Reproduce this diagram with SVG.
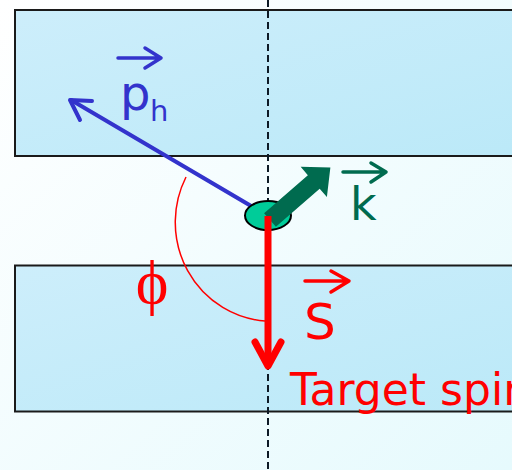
<svg xmlns="http://www.w3.org/2000/svg" width="512" height="470" viewBox="0 0 512 470">
  <defs>
    <linearGradient id="bg" x1="0" y1="0" x2="1" y2="1">
      <stop offset="0" stop-color="#ffffff"/>
      <stop offset="1" stop-color="#e6fafd"/>
    </linearGradient>
    <linearGradient id="slab" x1="0" y1="0" x2="1" y2="1">
      <stop offset="0" stop-color="#cdeefb"/>
      <stop offset="1" stop-color="#bbe9f8"/>
    </linearGradient>
    <style>
      .slab { fill: url(#slab); stroke: #1a1a1a; stroke-width: 2; }
      .lbl { font-family: 'Comic Sans MS', 'DejaVu Sans', sans-serif; }
      .vec { fill: none; stroke-width: 3.5; stroke-linecap: round; stroke-linejoin: round; }
    </style>
  </defs>

  <rect x="0" y="0" width="512" height="470" fill="url(#bg)"/>

  <g id="top-slab"><rect class="slab" x="15" y="10" width="510" height="146"/></g>
  <g id="bottom-slab"><rect class="slab" x="15" y="265.5" width="510" height="146"/></g>

  <g id="connectors">
    <line id="axis" x1="268" y1="0" x2="268" y2="470" stroke="#0d1a26" stroke-width="2" stroke-dasharray="7,4"/>
    <path id="phi-arc" d="M186,177 A97,99 0 0 0 265,321" fill="none" stroke="#ff0000" stroke-width="1.5"/>
    <g id="ph-arrow" stroke="#3333cc" stroke-width="4" fill="none" stroke-linecap="round" stroke-linejoin="round">
      <line x1="268" y1="216" x2="71" y2="100"/>
      <polyline points="92,101 70,100 80,120"/>
    </g>
  </g>

  <g id="nucleon"><ellipse cx="268" cy="215.5" rx="23" ry="14.5" fill="#00cc99" stroke="#000" stroke-width="2"/></g>

  <g id="k-arrow">
    <path transform="translate(270,220) rotate(-41)" d="M0,-9 L58,-9 L58,-20 L80,0 L58,20 L58,9 L0,9 Z" fill="#006b4f"/>
  </g>

  <g id="s-arrow" stroke="#ff0000" fill="none" stroke-linecap="round" stroke-linejoin="round">
    <line x1="268" y1="216" x2="268" y2="364" stroke-width="7" stroke-linecap="butt"/>
    <polyline points="255,342 268,366 281,342" stroke-width="7"/>
  </g>

  <g id="label-ph" fill="#3333cc">
    <path class="vec" stroke="#3333cc" d="M118,58 L161,58 M145,48 L161,58 L145,68"/>
    <text class="lbl" x="120" y="110" font-size="48">p</text>
    <text class="lbl" x="150" y="121" font-size="29">h</text>
  </g>

  <g id="label-k" fill="#006b4f">
    <path class="vec" stroke="#006b4f" d="M343,172 L386,172 M371,163 L386,172 L371,182"/>
    <text class="lbl" x="350" y="220" font-size="46">k</text>
  </g>

  <g id="label-s" fill="#ff0000">
    <path class="vec" stroke="#ff0000" d="M305,281 L349,281 M331,271 L349,281 L331,292"/>
    <text class="lbl" x="304" y="339" font-size="50">S</text>
  </g>

  <g id="label-phi">
    <text x="152" y="303" font-size="62" text-anchor="middle" fill="#ff0000" font-family="'Liberation Serif', 'DejaVu Serif', serif">ϕ</text>
  </g>

  <g id="label-target">
    <text class="lbl" x="290" y="405" font-size="44" fill="#ff0000">Target spin</text>
  </g>
</svg>
